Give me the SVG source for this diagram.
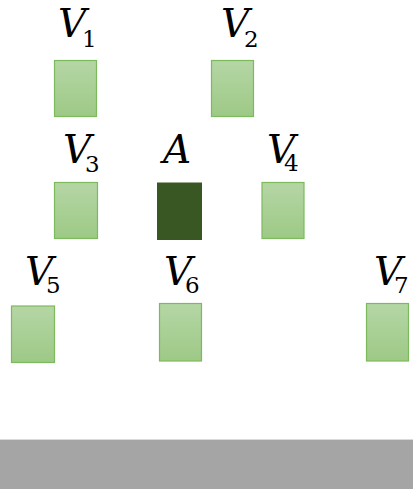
<svg xmlns="http://www.w3.org/2000/svg" width="413" height="489" viewBox="0 0 413 489">
<defs>
<linearGradient id="g" x1="0" y1="0" x2="0" y2="1">
<stop offset="0" stop-color="#B5D6A5"/>
<stop offset="1" stop-color="#9DC986"/>
</linearGradient>
<style>
.box{fill:url(#g);stroke:#7DBA5E;stroke-width:1.2}
.dark{fill:#385723;stroke:none}
.v{font-family:"DejaVu Serif",serif;font-style:italic;font-size:39px;fill:#000}
.s{font-size:23px;font-style:normal}
</style>
</defs>
<rect width="413" height="489" fill="#fff"/>
<g id="ground">
<rect x="0" y="439.5" width="413" height="49.5" fill="#A5A5A5"/>
<line x1="0" y1="439.5" x2="413" y2="439.5" stroke="#DADADA" stroke-width="1"/>
</g>
<g id="connectors"></g>
<g id="V1"><rect class="box" x="54.5" y="60.5" width="42" height="56"/><text class="v" x="58" y="37">V<tspan class="s" x="82" y="47">1</tspan></text></g>
<g id="V2"><rect class="box" x="211.5" y="60.5" width="42" height="56"/><text class="v" x="221" y="37">V<tspan class="s" x="244" y="47">2</tspan></text></g>
<g id="V3"><rect class="box" x="54.5" y="182.5" width="43" height="56"/><text class="v" x="63" y="163">V<tspan class="s" x="85" y="172">3</tspan></text></g>
<g id="A"><rect class="dark" x="157" y="182.5" width="45" height="57.5"/><text class="v" x="163" y="163">A</text></g>
<g id="V4"><rect class="box" x="262" y="182.5" width="42" height="56"/><text class="v" x="267" y="163">V<tspan class="s" x="284" y="171">4</tspan></text></g>
<g id="V5"><rect class="box" x="11.5" y="306" width="43" height="56.5"/><text class="v" x="25" y="285">V<tspan class="s" x="46" y="293">5</tspan></text></g>
<g id="V6"><rect class="box" x="159.5" y="303.5" width="42" height="57.5"/><text class="v" x="164" y="285">V<tspan class="s" x="185" y="293">6</tspan></text></g>
<g id="V7"><rect class="box" x="366.5" y="303.5" width="42" height="57.5"/><text class="v" x="374" y="285">V<tspan class="s" x="394" y="293">7</tspan></text></g>
</svg>
